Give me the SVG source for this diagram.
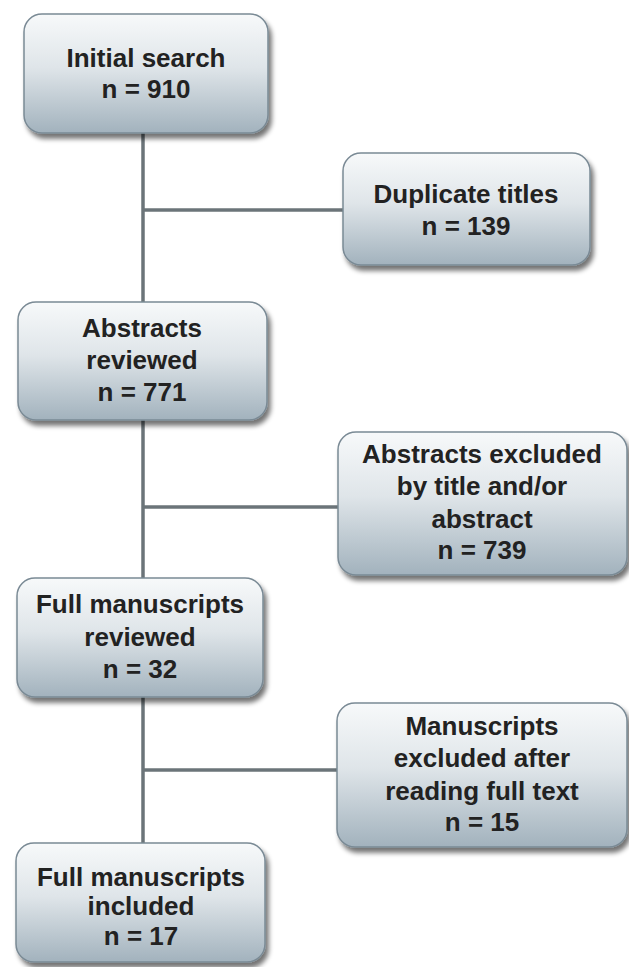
<svg xmlns="http://www.w3.org/2000/svg" width="629" height="967" viewBox="0 0 629 967">
<defs>
<linearGradient id="boxGrad" x1="0" y1="0" x2="0" y2="1">
<stop offset="0" stop-color="#f7f9fa"/>
<stop offset="0.45" stop-color="#dfe5e9"/>
<stop offset="1" stop-color="#a2b2bd"/>
</linearGradient>
<filter id="shadow" x="-10%" y="-10%" width="125%" height="130%">
<feGaussianBlur in="SourceAlpha" stdDeviation="2.5"/>
<feOffset dx="3" dy="5" result="b"/>
<feComponentTransfer><feFuncA type="linear" slope="0.55"/></feComponentTransfer>
<feMerge><feMergeNode/><feMergeNode in="SourceGraphic"/></feMerge>
</filter>
</defs>
<style>
.box{fill:url(#boxGrad);stroke:#7a8a95;stroke-width:1.5;filter:url(#shadow)}
.lbl{font-family:"Liberation Sans",Arial,sans-serif;font-weight:bold;font-size:26px;fill:#222;text-anchor:middle}
.conn{stroke:#6b7479;stroke-width:3.5;fill:none}
</style>
<rect width="629" height="967" fill="#ffffff"/>
<g id="connectors">
<line class="conn" x1="143" y1="133" x2="143" y2="302"/>
<line class="conn" x1="143" y1="210" x2="343" y2="210"/>
<line class="conn" x1="143" y1="420" x2="143" y2="578"/>
<line class="conn" x1="143" y1="507" x2="338" y2="507"/>
<line class="conn" x1="143" y1="697" x2="143" y2="843"/>
<line class="conn" x1="143" y1="770" x2="337" y2="770"/>
</g>
<g id="initial-search">
<rect class="box" x="24" y="14" width="244" height="119" rx="18"/>
<text class="lbl" x="146" y="67">Initial search</text>
<text class="lbl" x="146" y="98">n = 910</text>
</g>
<g id="duplicate-titles">
<rect class="box" x="343" y="153" width="247" height="112" rx="18"/>
<text class="lbl" x="466" y="203">Duplicate titles</text>
<text class="lbl" x="466" y="235">n = 139</text>
</g>
<g id="abstracts-reviewed">
<rect class="box" x="18" y="302" width="249" height="118" rx="18"/>
<text class="lbl" x="142" y="337">Abstracts</text>
<text class="lbl" x="142" y="369">reviewed</text>
<text class="lbl" x="142" y="401">n = 771</text>
</g>
<g id="abstracts-excluded">
<rect class="box" x="338" y="432" width="289" height="143" rx="18"/>
<text class="lbl" x="482" y="463">Abstracts excluded</text>
<text class="lbl" x="482" y="495">by title and/or</text>
<text class="lbl" x="482" y="528">abstract</text>
<text class="lbl" x="482" y="559">n = 739</text>
</g>
<g id="full-reviewed">
<rect class="box" x="17" y="578" width="246" height="119" rx="18"/>
<text class="lbl" x="140" y="613">Full manuscripts</text>
<text class="lbl" x="140" y="646">reviewed</text>
<text class="lbl" x="140" y="678">n = 32</text>
</g>
<g id="manuscripts-excluded">
<rect class="box" x="337" y="703" width="290" height="144" rx="18"/>
<text class="lbl" x="482" y="735">Manuscripts</text>
<text class="lbl" x="482" y="767">excluded after</text>
<text class="lbl" x="482" y="800">reading full text</text>
<text class="lbl" x="482" y="831">n = 15</text>
</g>
<g id="full-included">
<rect class="box" x="16" y="843" width="249" height="119" rx="18"/>
<text class="lbl" x="141" y="886">Full manuscripts</text>
<text class="lbl" x="141" y="915">included</text>
<text class="lbl" x="141" y="945">n = 17</text>
</g>
</svg>
